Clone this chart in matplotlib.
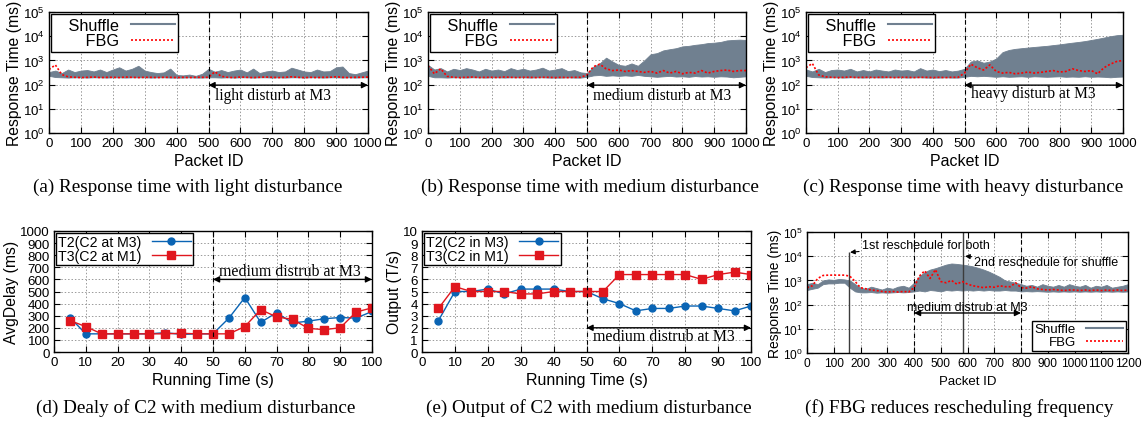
import numpy as np
import matplotlib
matplotlib.use("Agg")
import matplotlib.pyplot as plt
from matplotlib.lines import Line2D
from matplotlib.ticker import NullLocator

plt.rcParams['font.family'] = ['Liberation Sans', 'DejaVu Sans']
plt.rcParams['mathtext.default'] = 'regular'

# ---- (a)-(c): response time, packets 0..1000 sampled every 20 ----
pkt = np.arange(0, 1001, 20)

a_shuf_hi = [330, 380, 300, 420, 330, 380, 400, 350, 420, 330,
             420, 520, 380, 450, 600, 380, 330, 300, 320, 460,
             250, 240, 260, 230, 280, 450, 340, 400, 330, 380,
             420, 320, 460, 300, 350, 380, 330, 350, 500, 420,
             350, 330, 420, 350, 360, 520, 560, 300, 270, 320, 380]
a_shuf_lo = [230, 205, 200, 195, 200, 200, 195, 200, 200, 195,
             200, 200, 195, 200, 200, 200, 195, 200, 200, 195,
             195, 195, 200, 195, 195, 200, 200, 195, 200, 195,
             200, 200, 195, 200, 200, 195, 200, 195, 200, 200,
             195, 200, 200, 195, 200, 200, 195, 200, 195, 200, 200]
a_fbg = [420, 650, 260, 210, 200, 195, 200, 205, 195, 200,
         200, 195, 205, 200, 195, 200, 200, 195, 200, 200,
         195, 200, 195, 200, 200, 200, 340, 220, 200, 195,
         205, 200, 195, 200, 205, 200, 195, 200, 210, 200,
         195, 200, 195, 200, 200, 210, 200, 195, 200, 200, 205]

b_shuf_hi = [650, 420, 480, 350, 450, 400, 480, 420, 350, 450,
             380, 420, 360, 480, 400, 450, 380, 420, 500, 380,
             420, 480, 360, 400, 320, 300, 550, 750, 1300, 900,
             650, 600, 750, 600, 1000, 1800, 2000, 2600, 2900, 3200,
             3800, 4000, 4400, 4700, 5200, 5400, 5800, 6700, 7000, 7200, 7000]
b_shuf_lo = [230, 200, 200, 195, 200, 200, 195, 200, 200, 195,
             200, 200, 195, 200, 200, 200, 195, 200, 200, 195,
             195, 195, 200, 195, 195, 210, 240, 250, 230, 240,
             230, 240, 230, 250, 230, 220, 210, 220, 230, 215,
             220, 210, 225, 215, 220, 210, 220, 215, 200, 210, 220]
b_fbg = [600, 280, 450, 220, 200, 195, 200, 205, 195, 200,
         200, 195, 205, 200, 195, 200, 200, 195, 200, 200,
         195, 200, 195, 200, 200, 250, 550, 700, 450, 380,
         400, 350, 380, 350, 320, 350, 300, 380, 300, 350,
         280, 320, 300, 380, 300, 350, 380, 400, 350, 380, 380]

c_shuf_hi = [420, 350, 450, 330, 400, 420, 380, 450, 350, 400,
             350, 420, 380, 350, 420, 380, 400, 350, 480, 380,
             420, 360, 400, 350, 380, 450, 900, 1000, 800, 900,
             1200, 2200, 2700, 3000, 3200, 3400, 3600, 3800, 4000, 4300,
             4600, 5000, 5400, 5800, 6300, 7000, 7800, 8800, 10000, 11000, 11500]
c_shuf_lo = [230, 205, 200, 195, 200, 200, 195, 200, 200, 195,
             200, 200, 195, 200, 200, 200, 195, 200, 200, 195,
             195, 195, 200, 195, 195, 210, 230, 220, 230, 220,
             210, 220, 210, 215, 220, 210, 220, 215, 210, 215,
             220, 210, 215, 210, 220, 210, 215, 210, 200, 210, 215]
c_fbg = [500, 750, 250, 210, 200, 195, 200, 205, 195, 200,
         200, 195, 205, 200, 195, 200, 200, 195, 200, 200,
         195, 200, 195, 200, 200, 300, 700, 500, 400, 650,
         350, 300, 320, 280, 300, 330, 300, 320, 350, 380,
         330, 350, 450, 380, 350, 380, 280, 500, 700, 900, 1000]

# ---- (d)/(e): per 5 s ----
run_t = [5, 10, 15, 20, 25, 30, 35, 40, 45, 50,
         55, 60, 65, 70, 75, 80, 85, 90, 95, 100]
d_t2 = [285, 150, 150, 150, 150, 150, 160, 145, 150, 150,
        280, 450, 245, 325, 240, 255, 275, 285, 280, 335]
d_t3 = [260, 210, 150, 150, 150, 150, 150, 155, 150, 150,
        150, 210, 350, 290, 270, 195, 185, 200, 330, 365]
e_t2 = [2.6, 5.0, 5.0, 5.2, 4.8, 5.2, 5.2, 5.2, 5.0, 5.0,
        4.4, 4.0, 3.4, 3.6, 3.6, 3.8, 3.8, 3.6, 3.4, 3.8]
e_t3 = [3.6, 5.4, 5.0, 5.0, 5.0, 4.8, 4.8, 5.0, 5.0, 5.0,
        5.0, 6.4, 6.4, 6.4, 6.4, 6.4, 6.0, 6.4, 6.6, 6.4]

# ---- (f): packets 0..1200 every 20 ----
pkt_f = np.arange(0, 1201, 20)
f_shuf_hi = [700, 800, 700, 1000, 1100, 1050, 1150, 1100, 1000, 700,
             500, 450, 550, 480, 420, 500, 450, 550, 600, 500,
             800, 1500, 2200, 2800, 3200, 3800, 4500, 5000, 4800, 4500,
             4200, 3800, 3300, 2800, 2300, 1800, 1400, 1000, 900, 800,
             700, 600, 650, 550, 700, 600, 550, 650, 550, 700,
             600, 550, 650, 500, 600, 550, 650, 500, 550, 600, 700]
f_shuf_lo = [400, 450, 500, 700, 750, 750, 800, 800, 500, 350,
             320, 320, 330, 310, 320, 310, 320, 330, 320, 330,
             350, 380, 350, 400, 380, 350, 400, 380, 400, 380,
             400, 380, 400, 380, 400, 380, 380, 400, 380, 380,
             350, 360, 350, 360, 350, 340, 350, 340, 350, 340,
             350, 340, 350, 340, 350, 340, 350, 340, 350, 340, 350]
f_fbg = [500, 600, 1200, 1600, 1650, 1650, 1650, 1650, 1500, 900,
         500, 450, 400, 380, 350, 330, 350, 330, 350, 330,
         500, 1500, 2500, 1200, 2800, 900, 800, 1000, 700, 900,
         700, 600, 550, 500, 550, 520, 600, 550, 550, 800,
         500, 480, 550, 450, 420, 400, 420, 400, 380, 400,
         400, 380, 400, 380, 400, 380, 400, 380, 400, 380, 400]
resched_x = [158, 585]
resched_top = [1.5e4, 1e5]

GRAY = '#708090'
RED = '#ff0000'
BLUE = '#0a64b4'
RED2 = '#e0161e'
CAP = 13.8

W, H = 1147, 427
fig = plt.figure(figsize=(W / 100, H / 100), dpi=100)


def box(l, r, t, b):
    return [l / W, 1 - b / H, (r - l) / W, (b - t) / H]


def style(ax, tsize=9.6):
    ax.grid(True, color='#9a9a9a', linestyle=(0, (1.5, 2)), linewidth=0.7)
    ax.set_axisbelow(True)
    ax.tick_params(direction='in', top=True, right=True, length=4,
                   width=0.8, labelsize=tsize, pad=3)
    for s in ax.spines.values():
        s.set_linewidth(1.0)


def darrow(ax, x0, x1, y):
    ax.annotate('', xy=(x1, y), xytext=(x0, y),
                arrowprops=dict(arrowstyle='<|-|>', color='black', lw=1.0,
                                shrinkA=0, shrinkB=0, mutation_scale=9))


def resp_panel(pos, hi, lo, fbg, label, ty, cap, capx):
    ax = fig.add_axes(box(*pos))
    ax.fill_between(pkt, lo, hi, color=GRAY, lw=0.6)
    ax.plot(pkt, fbg, color=RED, ls=(0, (1.2, 1.2)), lw=1.2)
    ax.set_yscale('log')
    ax.set_ylim(1, 1e5)
    ax.set_xlim(0, 1000)
    ax.set_yticks([1, 10, 100, 1e3, 1e4, 1e5])
    ax.yaxis.set_minor_locator(NullLocator())
    ax.set_xticks(range(0, 1001, 100))
    style(ax)
    ax.axvline(500, color='black', ls=(0, (4, 3)), lw=0.8)
    darrow(ax, 500, 1000, 95)
    ax.text(520, ty, label, family='Liberation Serif', fontsize=11.2,
            va='center', ha='left')
    ax.set_xlabel('Packet ID', fontsize=11.5, labelpad=2.5)
    ax.set_ylabel('Response Time (ms)', fontsize=11.3, labelpad=1)
    h = [Line2D([], [], color=GRAY, lw=1.5),
         Line2D([], [], color=RED, ls=(0, (1.2, 1.2)), lw=1.2)]
    leg = ax.legend(h, ['   Shuffle', '   FBG'], loc='upper left', markerfirst=False,
                    fancybox=False, edgecolor='black', framealpha=1,
                    fontsize=11.7, handlelength=2.7, handletextpad=0.75,
                    borderaxespad=0.15, labelspacing=0.05, borderpad=0.2)
    leg.get_frame().set_linewidth(1.0)
    fig.text(capx / W, 1 - 187 / H, cap, family='Liberation Serif',
             fontsize=CAP, ha='center', va='center')
    return ax


resp_panel((49, 368, 13, 134), a_shuf_hi, a_shuf_lo, a_fbg,
           'light disturb at M3', 36, '(a) Response time with light disturbance', 188)
resp_panel((428, 746, 13, 134), b_shuf_hi, b_shuf_lo, b_fbg,
           'medium disturb at M3', 36, '(b) Response time with medium disturbance', 590)
resp_panel((806, 1123, 13, 134), c_shuf_hi, c_shuf_lo, c_fbg,
           'heavy disturb at M3', 45, '(c) Response time with heavy disturbance', 963)


def line_panel(pos, y2, y3, labs, ylim, yticks, ylabel, arrow_y, text_y, cap, capx):
    ax = fig.add_axes(box(*pos))
    ax.plot(run_t, y2, color=BLUE, marker='o', ms=5, lw=1.0, label=labs[0])
    ax.plot(run_t, y3, color=RED2, marker='s', ms=5.5, lw=1.0, label=labs[1])
    ax.set_xlim(0, 100)
    ax.set_ylim(*ylim)
    ax.set_xticks(range(0, 101, 10))
    ax.set_yticks(yticks)
    style(ax)
    ax.axvline(50, color='black', ls=(0, (4, 3)), lw=0.8)
    darrow(ax, 50, 100, arrow_y)
    ax.text(52, text_y, 'medium distrub at M3', family='Liberation Serif',
            fontsize=11.4, va='center', ha='left')
    ax.set_xlabel('Running Time (s)', fontsize=11.5, labelpad=3)
    ax.set_ylabel(ylabel, fontsize=11.3, labelpad=1)
    leg = ax.legend(loc='upper left', markerfirst=False, fancybox=False,
                    edgecolor='black', framealpha=1, fontsize=10.2,
                    handlelength=2.8, handletextpad=0.7, borderaxespad=0.15,
                    labelspacing=0.0, borderpad=0.15)
    leg.get_frame().set_linewidth(1.0)
    fig.text(capx / W, 1 - 408 / H, cap, family='Liberation Serif',
             fontsize=CAP, ha='center', va='center')
    return ax


line_panel((54, 372, 232, 353), d_t2, d_t3, ['T2(C2 at M3)', 'T3(C2 at M1)'],
           (0, 1000), range(0, 1001, 100), 'AvgDelay (ms)', 600, 670,
           '(d) Dealy of C2 with medium disturbance', 196)
line_panel((422, 751, 232, 353), e_t2, e_t3, ['T2(C2 in M3)', 'T3(C2 in M1)'],
           (0, 10), range(0, 11), 'Output (T/s)', 2.0, 1.35,
           '(e) Output of C2 with medium disturbance', 589)

# ---- (f) ----
ax = fig.add_axes(box(807, 1128, 233, 354))
ax.fill_between(pkt_f, f_shuf_lo, f_shuf_hi, color=GRAY, lw=0.6)
ax.vlines(resched_x, 1, resched_top, color='#3c3c3c', lw=1.0)
ax.plot(pkt_f, f_fbg, color=RED, ls=(0, (1.2, 1.2)), lw=1.2)
ax.set_yscale('log')
ax.set_ylim(1, 1e5)
ax.set_xlim(0, 1200)
ax.set_yticks([1, 10, 100, 1e3, 1e4, 1e5])
ax.yaxis.set_minor_locator(NullLocator())
ax.set_xticks(range(0, 1201, 100))
style(ax, 8.6)
ax.axvline(400, color='black', ls=(0, (4, 3)), lw=0.8)
ax.axvline(800, color='black', ls=(0, (4, 3)), lw=0.8)
darrow(ax, 400, 800, 45)
ax.text(373, 77, 'medium distrub at M3', fontsize=9, va='center', ha='left')
ax.annotate('1st reschedule for both', xy=(161, 10 ** 4.16), xytext=(205, 10 ** 4.45),
            fontsize=9, va='center', ha='left',
            arrowprops=dict(arrowstyle='-|>', color='black', lw=0.8,
                            shrinkA=0, shrinkB=0, mutation_scale=7))
ax.annotate('2nd reschedule for shuffle', xy=(591, 10 ** 4.0), xytext=(626, 10 ** 3.75),
            fontsize=9, va='center', ha='left',
            arrowprops=dict(arrowstyle='-|>', color='black', lw=0.8,
                            shrinkA=0, shrinkB=0, mutation_scale=7))
ax.set_xlabel('Packet ID', fontsize=9.5, labelpad=4)
ax.set_ylabel('Response Time (ms)', fontsize=10, labelpad=1)
h = [Line2D([], [], color=GRAY, lw=1.5),
     Line2D([], [], color=RED, ls=(0, (1.2, 1.2)), lw=1.2)]
leg = ax.legend(h, ['Shuffle', 'FBG'], loc='lower right', markerfirst=False,
                fancybox=False, edgecolor='black', framealpha=1,
                fontsize=9.5, handlelength=2.8, handletextpad=0.8,
                borderaxespad=0.15, labelspacing=0.05, borderpad=0.2)
leg.get_frame().set_linewidth(1.0)
fig.text(959 / W, 1 - 408 / H, '(f) FBG reduces rescheduling frequency',
         family='Liberation Serif', fontsize=CAP, ha='center', va='center')

fig.savefig('out.png', dpi=100)
